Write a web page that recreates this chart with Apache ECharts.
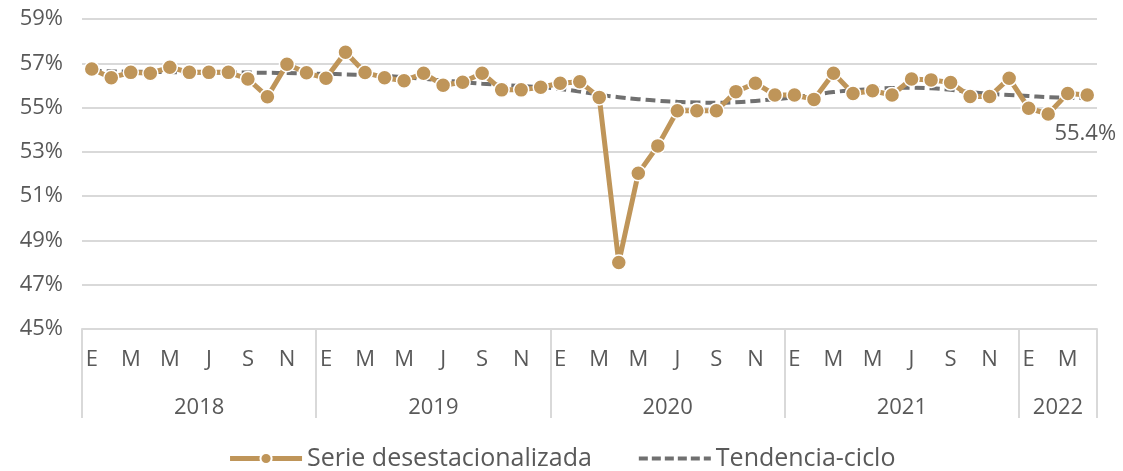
<!DOCTYPE html>
<html>
<head>
<meta charset="utf-8">
<script src="https://cdn.jsdelivr.net/npm/echarts@6/dist/echarts.min.js"></script>
<style>
  html, body { margin: 0; padding: 0; background: #fff; }
  #chart { width: 1123px; height: 471px; }
</style>
</head>
<body>
<div id="chart"></div>
<script>
// etiquetas de meses (E F M A M J J A S O N D) y años
const years = ['2018', '2019', '2020', '2021', '2022'];
const monthLetters = ['E', 'F', 'M', 'A', 'M', 'J', 'J', 'A', 'S', 'O', 'N', 'D'];
const monthsPerYear = [12, 12, 12, 12, 4];

// serie desestacionalizada (%)
const serie = [
  56.74, 56.35, 56.59, 56.55, 56.82, 56.59, 56.59, 56.59, 56.29, 55.49, 56.96, 56.57,
  56.32, 57.50, 56.58, 56.35, 56.21, 56.55, 56.01, 56.14, 56.55, 55.80, 55.80, 55.92,
  56.10, 56.17, 55.46, 48.00, 52.03, 53.27, 54.86, 54.86, 54.86, 55.72, 56.10, 55.57,
  55.57, 55.37, 56.55, 55.64, 55.76, 55.57, 56.29, 56.25, 56.13, 55.50, 55.50, 56.32,
  54.97, 54.71, 55.64, 55.57
];

// tendencia-ciclo (%)
const tendencia = [
  56.66, 56.64, 56.62, 56.61, 56.60, 56.59, 56.58, 56.58, 56.58, 56.57, 56.56, 56.54,
  56.52, 56.50, 56.47, 56.43, 56.37, 56.30, 56.22, 56.15, 56.08, 56.02, 55.97, 55.92,
  55.84, 55.72, 55.58, 55.47, 55.38, 55.31, 55.26, 55.23, 55.22, 55.24, 55.30, 55.38,
  55.47, 55.58, 55.70, 55.78, 55.84, 55.88, 55.90, 55.87, 55.80, 55.70, 55.62, 55.57,
  55.52, 55.47, 55.44, 55.42
];

const months = [];
const yearCats = [];
const yearStart = {};
const yearLabelIdx = {};
let k = 0;
years.forEach((y, yi) => {
  yearStart[k] = true;
  // la etiqueta del año va en la categoría central (se corrige medio mes con padding)
  yearLabelIdx[k + monthsPerYear[yi] / 2] = y;
  for (let m = 0; m < monthsPerYear[yi]; m++) {
    months.push(monthLetters[m]);
    yearCats.push(y + '-' + m);
    k++;
  }
});
yearStart[k] = true;

const font = '"Open Sans", "DejaVu Sans", sans-serif';
const gray = '#595959';
const tan = '#BF9559';
const dark = '#707070';

const chart = echarts.init(document.getElementById('chart'));

const option = {
  animation: false,
  textStyle: { fontFamily: font },
  grid: { left: 82, right: 26, top: 19, bottom: 142 },
  legend: {
    bottom: -5,
    left: 'center',
    itemWidth: 72,
    itemHeight: 14,
    itemGap: 45,
    textStyle: { fontSize: 25, color: gray, fontFamily: font },
    data: [
      {
        name: 'Serie desestacionalizada',
        lineStyle: { width: 5, color: tan }
      },
      {
        name: 'Tendencia-ciclo',
        itemStyle: { opacity: 0 },
        lineStyle: { width: 4, color: dark, type: [9, 4] }
      }
    ]
  },
  xAxis: [
    {
      type: 'category',
      data: months,
      boundaryGap: true,
      position: 'bottom',
      axisLine: { show: true, lineStyle: { color: '#d9d9d9', width: 2 } },
      axisTick: {
        show: true,
        length: 89,
        lineStyle: { color: '#d9d9d9', width: 2 },
        interval: (i) => !!yearStart[i]
      },
      axisLabel: {
        interval: 1,
        margin: 20,
        fontSize: 22,
        color: gray
      },
      splitLine: { show: false }
    },
    {
      type: 'category',
      data: yearCats,
      boundaryGap: true,
      position: 'bottom',
      offset: 56,
      axisLine: { show: false },
      axisTick: { show: false },
      axisLabel: {
        interval: (i) => yearLabelIdx[i] !== undefined,
        formatter: (v, i) => yearLabelIdx[i] || '',
        fontSize: 22,
        color: gray,
        margin: 12,
        padding: [0, 19.5, 0, 0]
      }
    }
  ],
  yAxis: {
    type: 'value',
    min: 45,
    max: 59,
    interval: 2,
    axisLine: { show: false },
    axisTick: { show: false },
    axisLabel: {
      formatter: '{value}%',
      fontSize: 22,
      color: gray,
      margin: 19
    },
    splitLine: { lineStyle: { color: '#d9d9d9', width: 2 } }
  },
  series: [
    {
      name: 'Serie desestacionalizada',
      type: 'line',
      data: serie,
      symbol: 'circle',
      symbolSize: 15,
      showAllSymbol: true,
      color: tan,
      lineStyle: { color: tan, width: 5 },
      itemStyle: { color: tan, borderColor: '#fff', borderWidth: 1.5 },
      z: 3
    },
    {
      name: 'Tendencia-ciclo',
      type: 'line',
      data: tendencia,
      symbol: 'none',
      smooth: true,
      color: dark,
      lineStyle: { color: dark, width: 4, type: [10, 5] },
      z: 2,
      markPoint: {
        symbol: 'circle',
        symbolSize: 0,
        data: [{ coord: [tendencia.length - 1, tendencia[tendencia.length - 1]] }],
        label: {
          show: true,
          position: 'bottom',
          distance: 24,
          offset: [-2, 0],
          formatter: () => tendencia[tendencia.length - 1].toFixed(1) + '%',
          fontSize: 22,
          color: gray
        }
      }
    }
  ]
};

chart.setOption(option);
</script>
</body>
</html>
